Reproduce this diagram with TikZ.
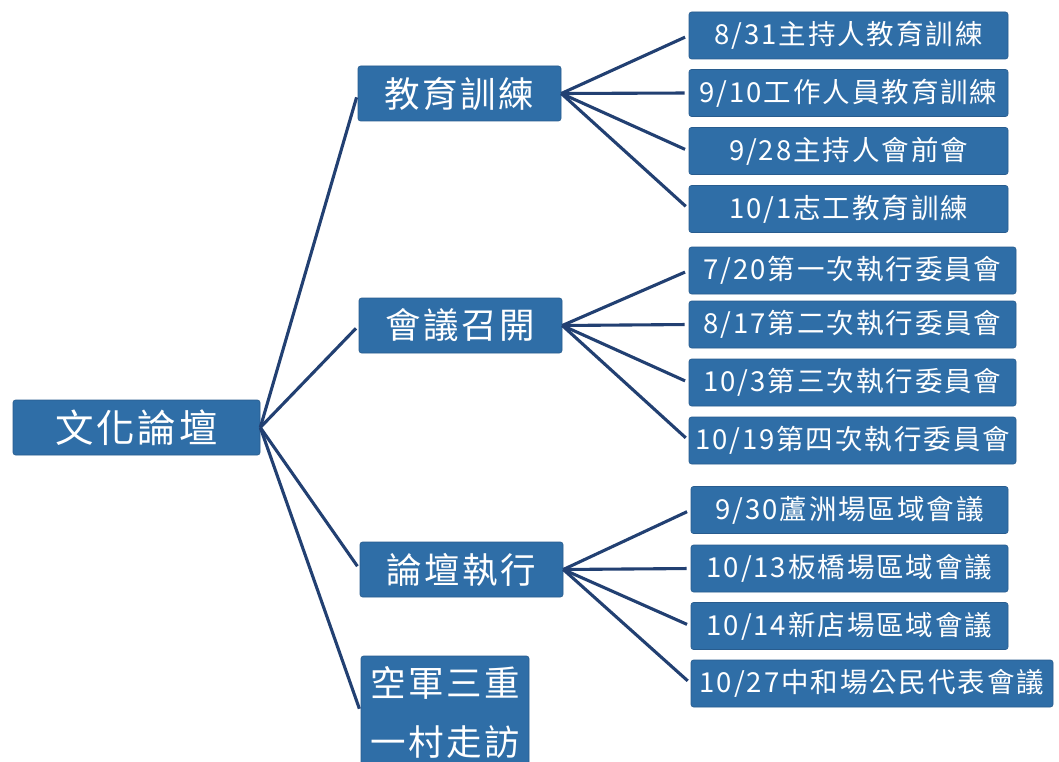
\documentclass[tikz,border=0pt]{standalone}
\usepackage{fontspec}
\newfontfamily\cjk[LetterSpace=7]{Noto Sans CJK TC}
\definecolor{boxblue}{RGB}{47,110,167}
\definecolor{boxedge}{RGB}{40,92,142}
\definecolor{linkblue}{RGB}{34,64,114}
\begin{document}
\begin{tikzpicture}[x=1pt,y=-1pt,
  box/.style={fill=boxblue, draw=boxedge, line width=0.6pt, rounded corners=2.5pt,
    text=white, inner sep=0pt, anchor=center, align=center},
  rootbox/.style={box, minimum width=247pt, minimum height=55pt, font=\cjk\fontsize{38.5}{40}\selectfont},
  midbox/.style={box, minimum width=203pt, minimum height=55pt, font=\cjk\fontsize{35.5}{40}\selectfont},
  leafbox/.style={box, minimum height=47pt, font=\cjk\fontsize{27.5}{30}\selectfont},
  link/.style={draw=linkblue, line width=3.1pt, shorten >=4pt}
]
\useasboundingbox (0,0) rectangle (1059,762);
\clip (0,0) rectangle (1059,762);
\fill[white] (0,0) rectangle (1059,762);

% root
\node[rootbox] (root) at (136.5,427.5) {文化論壇};

% level 2
\node[midbox] (m1) at (459.5,93.5) {教育訓練};
\node[midbox] (m2) at (460.5,325.5) {會議召開};
\node[midbox] (m3) at (461.5,569.5) {論壇執行};
\node[box, minimum width=168pt, minimum height=113pt, font=\cjk\fontsize{35.5}{59}\selectfont] (m4) at (445,712.5) {空軍三重\\一村走訪};

% leaves group 1
\node[leafbox, minimum width=319pt] (a1) at (848.5,35.5) {8/31主持人教育訓練};
\node[leafbox, minimum width=319pt] (a2) at (848.5,93) {9/10工作人員教育訓練};
\node[leafbox, minimum width=319pt] (a3) at (848.5,151) {9/28主持人會前會};
\node[leafbox, minimum width=319pt] (a4) at (848.5,209) {10/1志工教育訓練};

% leaves group 2
\node[leafbox, minimum width=327pt] (b1) at (852.5,270.5) {7/20第一次執行委員會};
\node[leafbox, minimum width=327pt] (b2) at (852.5,324.5) {8/17第二次執行委員會};
\node[leafbox, minimum width=327pt] (b3) at (852.5,382.5) {10/3第三次執行委員會};
\node[leafbox, minimum width=327pt] (b4) at (852.5,440.5) {10/19第四次執行委員會};

% leaves group 3
\node[leafbox, minimum width=317pt] (c1) at (849.5,510) {9/30蘆洲場區域會議};
\node[leafbox, minimum width=317pt] (c2) at (849.5,568.5) {10/13板橋場區域會議};
\node[leafbox, minimum width=317pt] (c3) at (849.5,626) {10/14新店場區域會議};
\node[leafbox, minimum width=362pt] (c4) at (872,683.5) {10/27中和場公民代表會議};

% connectors
\foreach \m in {m1,m2,m3,m4} \draw[link] (root.east) -- (\m.west);
\foreach \l in {a1,a2,a3,a4} \draw[link] (m1.east) -- (\l.west);
\foreach \l in {b1,b2,b3,b4} \draw[link] (m2.east) -- (\l.west);
\foreach \l in {c1,c2,c3,c4} \draw[link] (m3.east) -- (\l.west);
\end{tikzpicture}
\end{document}
